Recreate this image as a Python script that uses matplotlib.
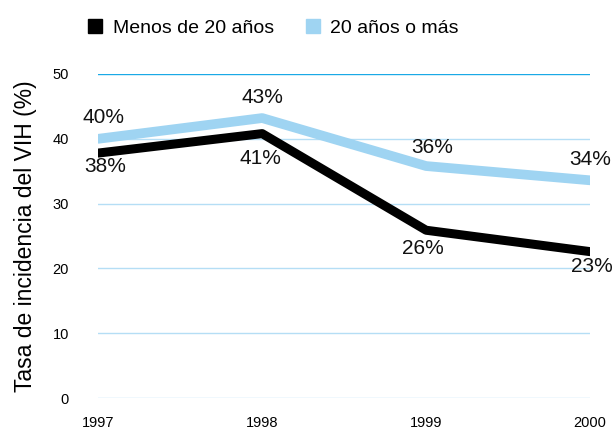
import matplotlib
matplotlib.use("Agg")
import matplotlib.pyplot as plt
from matplotlib.lines import Line2D

years = [1997, 1998, 1999, 2000]
menos_20 = [37.8, 40.8, 25.9, 22.6]
mas_20 = [40.0, 43.2, 35.8, 33.6]
series_names = ["Menos de 20 años", "20 años o más"]
yticks = [0, 10, 20, 30, 40, 50]

BLACK = "#000000"
LIGHT = "#9fd4f2"
GRID = "#b5def5"
GRID_TOP = "#1aa9e6"

# label offsets (points) from each point, text centred
off_mas = [(3.6, 15), (0, 15), (4.3, 13), (0, 15)]
off_menos = [(5, -10), (-1.5, -18), (-2, -13.5), (1.5, -11)]

plt.rcParams["font.family"] = ["Liberation Sans", "DejaVu Sans"]

fig = plt.figure(figsize=(6.14, 4.30), dpi=100)
ax = fig.add_axes([0.16, 0.074, 0.801, 0.754])

for y in yticks:
    ax.axhline(y, color=GRID_TOP if y == 50 else GRID, lw=1.0, zorder=1)

ax.plot(years, mas_20, color=LIGHT, lw=7, solid_capstyle="round",
        solid_joinstyle="round", zorder=2)
ax.plot(years, menos_20, color=BLACK, lw=6.5, solid_capstyle="round",
        solid_joinstyle="round", zorder=3)

for x, v, o in zip(years, mas_20, off_mas):
    ax.annotate(f"{v:.0f}%", (x, v), textcoords="offset points", xytext=o,
                ha="center", va="center", fontsize=15, color="#111",
                annotation_clip=False)
for x, v, o in zip(years, menos_20, off_menos):
    ax.annotate(f"{v:.0f}%", (x, v), textcoords="offset points", xytext=o,
                ha="center", va="center", fontsize=15, color="#111",
                annotation_clip=False)

ax.set_xlim(1997, 2000)
ax.set_ylim(0, 50)
ax.set_xticks(years)
ax.set_yticks(yticks)
ax.tick_params(length=0, labelsize=10.5)
ax.tick_params(axis="y", pad=21)
ax.tick_params(axis="x", pad=13)
for s in ax.spines.values():
    s.set_visible(False)

ax.set_ylabel("Tasa de incidencia del VIH (%)", fontsize=16.5, labelpad=11)

handles = [Line2D([0], [0], marker="s", color="w", markerfacecolor=c,
                  markeredgecolor=c, markersize=10, label=n)
           for c, n in zip([BLACK, LIGHT], series_names)]
fig.legend(handles=handles, loc="upper center", bbox_to_anchor=(0.443, 0.995),
           ncol=2, frameon=False, fontsize=14, handletextpad=0.4,
           columnspacing=1.5, handlelength=1.0)

plt.savefig("out.png", dpi=100)
